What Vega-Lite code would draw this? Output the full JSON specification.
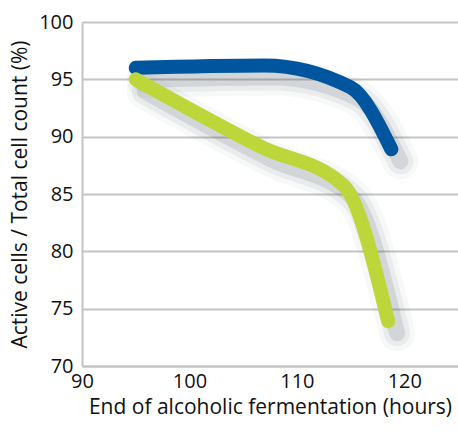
{
  "$schema": "https://vega.github.io/schema/vega-lite/v6.json",
  "width": 376,
  "height": 344,
  "autosize": {"type": "none"},
  "padding": {"left": 82, "top": 22, "right": 0, "bottom": 66},
  "background": "white",
  "config": {
    "view": {"stroke": null},
    "font": "Open Sans",
    "axis": {
      "labelFont": "Open Sans",
      "titleFont": "Open Sans",
      "labelFontSize": 20,
      "titleFontSize": 21,
      "titleFontWeight": "normal",
      "labelColor": "#111111",
      "titleColor": "#111111",
      "domainColor": "#c4c4c4",
      "domainWidth": 2,
      "gridColor": "#c4c4c4",
      "gridWidth": 2,
      "ticks": false
    }
  },
  "data": {
    "values": [
      {"hours": 95, "pct": 96.0, "series": "A"},
      {"hours": 107, "pct": 96.2, "series": "A"},
      {"hours": 115, "pct": 94.3, "series": "A"},
      {"hours": 118.8, "pct": 88.9, "series": "A"},
      {"hours": 95, "pct": 95.0, "series": "B"},
      {"hours": 106.7, "pct": 89.1, "series": "B"},
      {"hours": 114.4, "pct": 85.7, "series": "B"},
      {"hours": 118.5, "pct": 73.9, "series": "B"}
    ]
  },
  "encoding": {
    "x": {
      "field": "hours", "type": "quantitative",
      "scale": {"domain": [90, 125], "nice": false, "zero": false},
      "axis": {"values": [90, 100, 110, 120], "grid": false, "labelPadding": 5, "titlePadding": 5,
               "title": "End of alcoholic fermentation (hours)", "labelFlush": false}
    },
    "y": {
      "field": "pct", "type": "quantitative",
      "scale": {"domain": [70, 100], "nice": false, "zero": false},
      "axis": {"values": [70, 75, 80, 85, 90, 95, 100], "grid": true, "labelPadding": 9, "titlePadding": 8,
               "title": "Active cells  / Total cell count (%)", "labelFlush": false}
    },
    "detail": {"field": "series"}
  },
  "layer": [
    {
      "mark": {"type": "line", "interpolate": "monotone", "strokeWidth": 36, "strokeCap": "round", "strokeJoin": "round", "color": "#3a4550", "opacity": 0.04, "xOffset": 9, "yOffset": 12}
    },
    {
      "mark": {"type": "line", "interpolate": "monotone", "strokeWidth": 26, "strokeCap": "round", "strokeJoin": "round", "color": "#3a4550", "opacity": 0.07, "xOffset": 9, "yOffset": 12}
    },
    {
      "mark": {"type": "line", "interpolate": "monotone", "strokeWidth": 16, "strokeCap": "round", "strokeJoin": "round", "color": "#3a4550", "opacity": 0.12, "xOffset": 9, "yOffset": 12}
    },
    {
      "mark": {"type": "line", "interpolate": "monotone", "strokeWidth": 14, "strokeCap": "round", "strokeJoin": "round"},
      "encoding": {
        "color": {"field": "series", "type": "nominal",
                  "scale": {"domain": ["A", "B"], "range": ["#00559f", "#bdd63a"]}, "legend": null}
      }
    }
  ]
}
